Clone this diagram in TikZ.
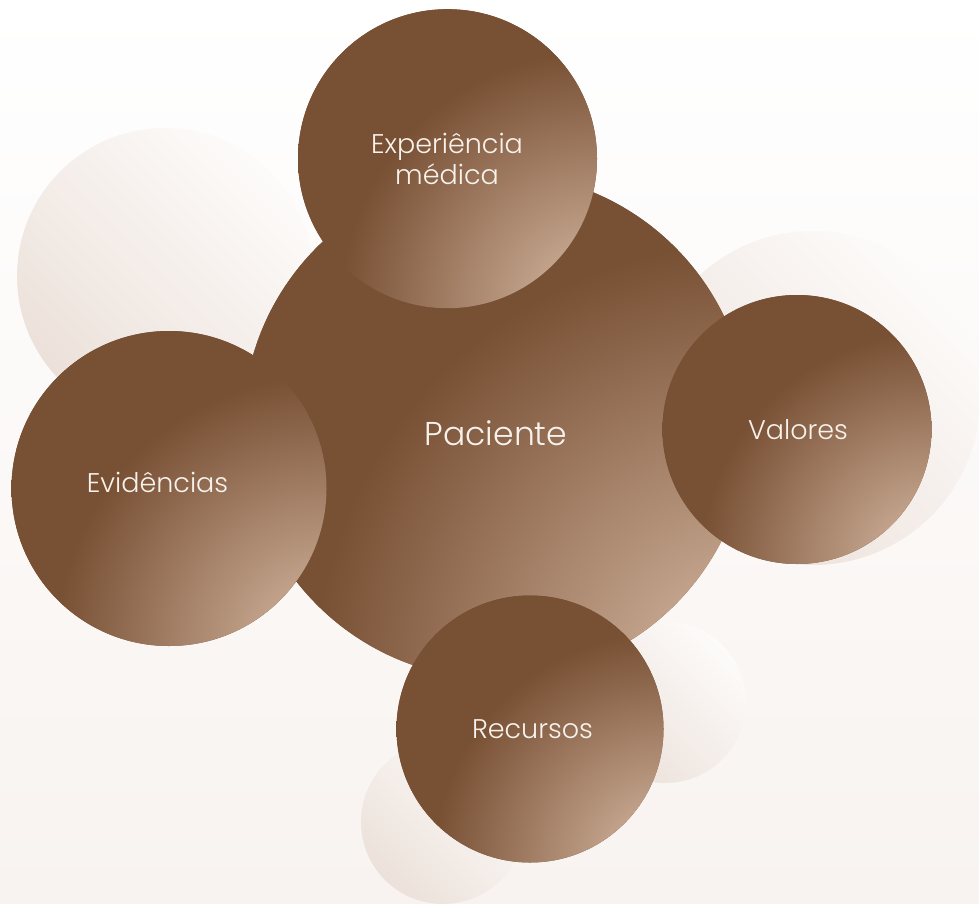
\documentclass[tikz,border=0pt]{standalone}
\usepackage{fontspec}
\setmainfont{Poppins Light}
\definecolor{bdark}{HTML}{785034}
\definecolor{blight}{HTML}{C2A28B}
\definecolor{bcorner}{HTML}{D2B5A0}
\definecolor{decoA}{HTML}{ECE1DA}
\definecolor{decoB}{HTML}{FDFBFA}
\definecolor{bgtop}{HTML}{FFFFFF}
\definecolor{bgbot}{HTML}{F8F3F0}
\definecolor{txt}{HTML}{F8F2EC}
% radial shading centred on the bottom-right corner of each ball's box;
% the shaded circle has radius 2.5 r, so 10bp corresponds to r
\pgfdeclareradialshading{radbrown}{\pgfpointorigin}{color(0bp)=(bcorner); color(4.14bp)=(blight); color(17.2bp)=(bdark); color(25bp)=(bdark); color(50bp)=(bdark)}
\pgfdeclarehorizontalshading{decoball}{100bp}{color(0bp)=(decoA); color(25bp)=(decoA); color(75bp)=(decoB); color(100bp)=(decoB)}
\tikzset{
  ball/.style={circle, inner sep=0pt, minimum size=#1*2pt, fill=bdark, draw=none,
    path picture={\shade[shading=radbrown] (path picture bounding box.south east) circle [radius=#1*2.5pt];}},
  faint/.style={circle, inner sep=0pt, minimum size=#1, shade, shading=decoball, shading angle=45, draw=none},
  lbl/.style={text=txt, font=\fontsize{27}{27}\selectfont, anchor=base, inner sep=0pt},
  biglbl/.style={lbl, font=\fontsize{33}{33}\selectfont}
}
\begin{document}
\begin{tikzpicture}[x=1pt, y=-1pt]
\useasboundingbox (0,0) rectangle (979,904);
\shade[top color=bgtop, bottom color=bgbot] (0,0) rectangle (979,904);
% faint decorative circles
\node[faint=296pt] (d1) at (165,276) {};
\node[faint=334pt] (d2) at (813,398) {};
\node[faint=162pt] (d3) at (665,702) {};
\node[faint=164pt] (d4) at (443,822) {};
% main circles
\node[ball=253] (pac) at (496,426) {};
\node[ball=149.5] (exp) at (447.5,158.7) {};
\node[ball=157.5] (evi) at (169,488.5) {};
\node[ball=134.5] (val) at (797,429.5) {};
\node[ball=133.5] (rec) at (530,729) {};
% labels
\node[biglbl] (tpac) at (496,445) {Paciente};
\node[lbl] (texpa) at (447,154) {Experiência};
\node[lbl] (texpb) at (447,185) {médica};
\node[lbl] (tevi) at (157.5,492.7) {Evidências};
\node[lbl] (tval) at (798,439) {Valores};
\node[lbl] (trec) at (532.5,738.3) {Recursos};
\end{tikzpicture}
\end{document}
